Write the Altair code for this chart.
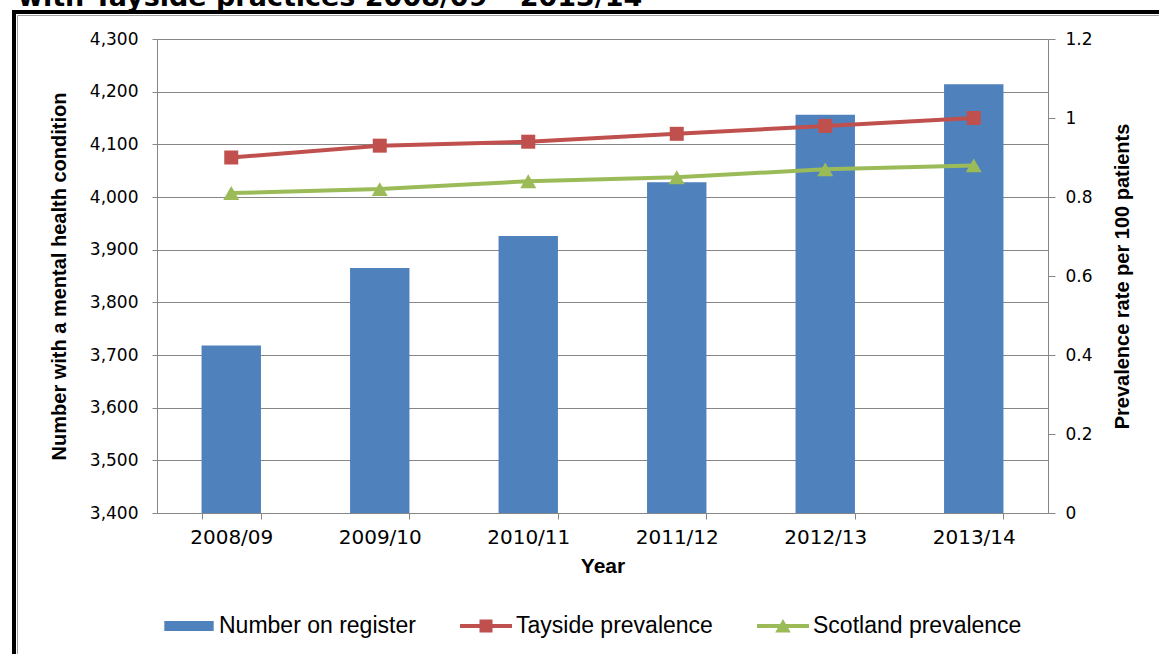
import altair as alt
import pandas as pd

# ---- data ----
years = ["2008/09", "2009/10", "2010/11", "2011/12", "2012/13", "2013/14"]
register = [3718, 3865, 3926, 4028, 4156, 4214]
tayside = [0.90, 0.93, 0.94, 0.96, 0.98, 1.00]
scotland = [0.81, 0.82, 0.84, 0.85, 0.87, 0.88]
series_names = ["Number on register", "Tayside prevalence", "Scotland prevalence"]
series_colors = ["#4F81BD", "#C0504D", "#9BBB59"]
left_ticks = [3400, 3500, 3600, 3700, 3800, 3900, 4000, 4100, 4200, 4300]
right_ticks = [0, 0.2, 0.4, 0.6, 0.8, 1.0, 1.2]
title_text = "with Tayside practices 2008/09 \u2013 2013/14"
left_title = "Number with a mental health condition"
right_title = "Prevalence rate per 100 patients"
x_title = "Year"

bar_df = pd.DataFrame({"year": years, "value": register, "series": series_names[0]})
line_df = pd.DataFrame({
    "year": years + years,
    "rate": tayside + scotland,
    "series": [series_names[1]] * len(years) + [series_names[2]] * len(years),
})
one = pd.DataFrame({"t": [title_text]})

TICK_FONT = "DejaVu Sans"
TITLE_FONT = "Liberation Sans"
GREY = "#868686"

# legend glyphs (unit paths scaled by sqrt(symbolSize)/2)
legend_paths = [
    "M-0.95,-0.19H0.95V0.19H-0.95Z",
    "M-1,-0.077H1V0.077H-1ZM-0.25,-0.25H0.25V0.25H-0.25Z",
    "M-1,-0.077H1V0.077H-1ZM-0.3,0.25L0,-0.27L0.3,0.25Z",
]


def make_legend():
    return alt.Legend(
        title=None, orient="none", legendX=6, legendY=561, direction="horizontal",
        columns=3, columnPadding=44, symbolSize=2704, labelOffset=4,
        symbolStrokeWidth=0, symbolOpacity=1,
        labelFont=TITLE_FONT, labelFontSize=23, labelColor="#000", labelLimit=500,
    )


color = alt.Color("series:N", scale=alt.Scale(domain=series_names, range=series_colors),
                  legend=make_legend())
shape = alt.Shape("series:N", scale=alt.Scale(domain=series_names, range=legend_paths),
                  legend=make_legend())

x_enc = alt.X("year:N", sort=years, title=x_title,
              scale=alt.Scale(paddingInner=0.6, paddingOuter=0.3),
              axis=alt.Axis(labelAngle=0, tickBand="extent", tickSize=6, tickColor=GREY,
                            domainColor=GREY, labelFont=TICK_FONT, labelFontSize=20,
                            labelColor="#000", labelPadding=8, titleFont=TITLE_FONT,
                            titleFontSize=21, titleFontWeight="bold", titlePadding=8,
                            titleColor="#000"))

bars = alt.Chart(bar_df).mark_bar(opacity=1).encode(
    x=x_enc,
    y=alt.Y("value:Q", title=left_title,
            scale=alt.Scale(domain=[left_ticks[0], left_ticks[-1]], zero=False, nice=False),
            axis=alt.Axis(values=left_ticks, format=",.0f", orient="left", grid=True,
                          gridColor=GREY, gridWidth=1, domainColor=GREY, tickColor=GREY,
                          tickSize=5, labelFont=TICK_FONT, labelFontSize=17,
                          labelColor="#000", labelPadding=14, titleFont=TITLE_FONT,
                          titleFontSize=20, titleFontWeight="bold", titlePadding=20,
                          titleColor="#000")),
    y2=alt.Y2(datum=left_ticks[0]),
    color=color,
)

y_right = alt.Y("rate:Q", title=right_title,
                scale=alt.Scale(domain=[right_ticks[0], right_ticks[-1]], nice=False),
                axis=alt.Axis(values=right_ticks, format=".1~f", orient="right", grid=False,
                              domainColor=GREY, tickColor=GREY, tickSize=7,
                              labelFont=TICK_FONT, labelFontSize=17, labelColor="#000",
                              labelPadding=10, titleFont=TITLE_FONT, titleFontSize=20,
                              titleFontWeight="bold", titleAngle=270, titleBaseline="top",
                              titlePadding=20, titleColor="#000"))

lines = alt.Chart(line_df).mark_line(strokeWidth=4).encode(
    x=alt.X("year:N", sort=years), y=y_right, color=color)
pts_t = alt.Chart(line_df).transform_filter(alt.datum.series == series_names[1]).mark_point(
    shape="square", filled=True, size=196, opacity=1).encode(
    x=alt.X("year:N", sort=years), y=y_right, color=color)
pts_s = alt.Chart(line_df).transform_filter(alt.datum.series == series_names[2]).mark_point(
    shape="triangle-up", filled=True, size=256, opacity=1).encode(
    x=alt.X("year:N", sort=years), y=y_right, color=color)
# legend-only layer (no rows drawn) carrying the combined glyph shapes
legend_layer = alt.Chart(line_df).transform_filter("false").mark_point(
    filled=True, opacity=1).encode(color=color, shape=shape)

# decorations: page frame and clipped heading
frame_left = alt.Chart(one).mark_rule(color="#000", strokeWidth=4).encode(
    x=alt.value(-143), x2=alt.value(-143), y=alt.value(-29), y2=alt.value(620))
frame_top = alt.Chart(one).mark_rule(color="#000", strokeWidth=4).encode(
    x=alt.value(-145), x2=alt.value(1010), y=alt.value(-27), y2=alt.value(-27))
inner_left = alt.Chart(one).mark_rule(color="#A0A0A0", strokeWidth=1).encode(
    x=alt.value(-139.5), x2=alt.value(-139.5), y=alt.value(-23.5), y2=alt.value(620))
inner_top = alt.Chart(one).mark_rule(color="#A0A0A0", strokeWidth=1).encode(
    x=alt.value(-139.5), x2=alt.value(1010), y=alt.value(-23.5), y2=alt.value(-23.5))
heading = alt.Chart(one).mark_text(align="left", baseline="alphabetic", font="DejaVu Sans",
                                   fontSize=27, fontWeight="bold", color="#000").encode(
    x=alt.value(-139), y=alt.value(-33), text="t:N")

chart = alt.layer(
    bars,
    alt.layer(lines, pts_t, pts_s, legend_layer, frame_left, frame_top, inner_left,
              inner_top, heading),
).resolve_scale(y="independent").properties(
    width=891, height=474,
    autosize=alt.AutoSizeParams(type="none"),
    padding={"left": 157, "top": 39, "right": 111, "bottom": 141},
    background="white",
).configure_view(stroke=None)

chart.save("out.html", embed_options={"renderer": "svg", "actions": False})
